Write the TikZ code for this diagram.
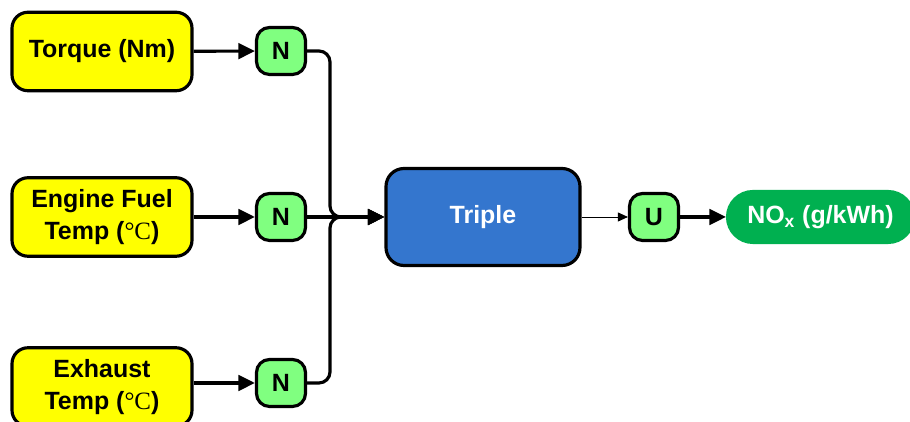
\documentclass[tikz,border=0pt]{standalone}
\usepackage{fontspec}
\setmainfont{Liberation Sans}
\newfontfamily\degfont{Liberation Serif}
\usetikzlibrary{arrows.meta}
\definecolor{inyellow}{RGB}{255,255,0}
\definecolor{normgreen}{RGB}{128,255,128}
\definecolor{tripleblue}{RGB}{52,118,206}
\definecolor{outgreen}{RGB}{0,176,80}

\begin{document}
\begin{tikzpicture}[
        every node/.style={font=\fontsize{14.2}{18.6}\selectfont\bfseries,align=center,inner sep=0pt},
        inbox/.style={draw,line width=1.8pt,fill=inyellow,rounded corners=0.32cm,minimum width=3.6cm,minimum height=1.57cm},
        normbox/.style={draw,line width=1.8pt,fill=normgreen,rounded corners=0.26cm,minimum width=0.98cm,minimum height=0.94cm},
        conn/.style={line width=1.8pt,-{Triangle[length=0.33cm,width=0.31cm]}}
    ]
            \useasboundingbox (0,0) rectangle (18.2,8.44);
            \begin{scope}
            \clip (0,0) rectangle (18.2,8.44);
            \node[inbox] (torque) at (2.04,7.41) {Torque (Nm)};
            \node[inbox] (fuel) at (2.04,4.1) {Engine Fuel\\Temp ({\degfont\mdseries °C})};
            \node[inbox] (exhaust) at (2.04,0.7) {Exhaust\\Temp ({\degfont\mdseries °C})};
            \node[draw,line width=1.8pt,fill=tripleblue,text=white,rounded corners=0.36cm,minimum width=3.88cm,minimum height=1.94cm] (triple) at (9.66,4.1) {Triple};
            \node[draw=outgreen,line width=1.2pt,fill=outgreen,text=white,rounded corners=0.52cm,minimum width=3.74cm,minimum height=1.04cm] (nox) at (16.41,4.1) {NO\textsubscript{x} (g/kWh)};
            \end{scope}
            \node[normbox] (n1) at (5.62,7.42) {N};
            \node[normbox] (n2) at (5.62,4.1) {N};
            \node[normbox] (n3) at (5.62,0.78) {N};
            \node[normbox] (u) at (13.08,4.1) {U};
            \coordinate (j) at (6.6,4.1);
            \draw[conn] (torque) -- (n1);
            \draw[conn] (fuel) -- (n2);
            \draw[conn] (exhaust.east |- n3) -- (n3);
            \draw[conn] (n2) -- (triple);
            \draw[conn,rounded corners=0.22cm] (n1.east) -| (j) -- (triple.west);
            \draw[conn,rounded corners=0.22cm] (n3.east) -| (j) -- (triple.west);
            \draw[-{Triangle[length=0.2cm,width=0.18cm]},line width=0.5pt] (triple) -- (u);
            \draw[conn] (u) -- (nox);
        \end{tikzpicture}
\end{document}
